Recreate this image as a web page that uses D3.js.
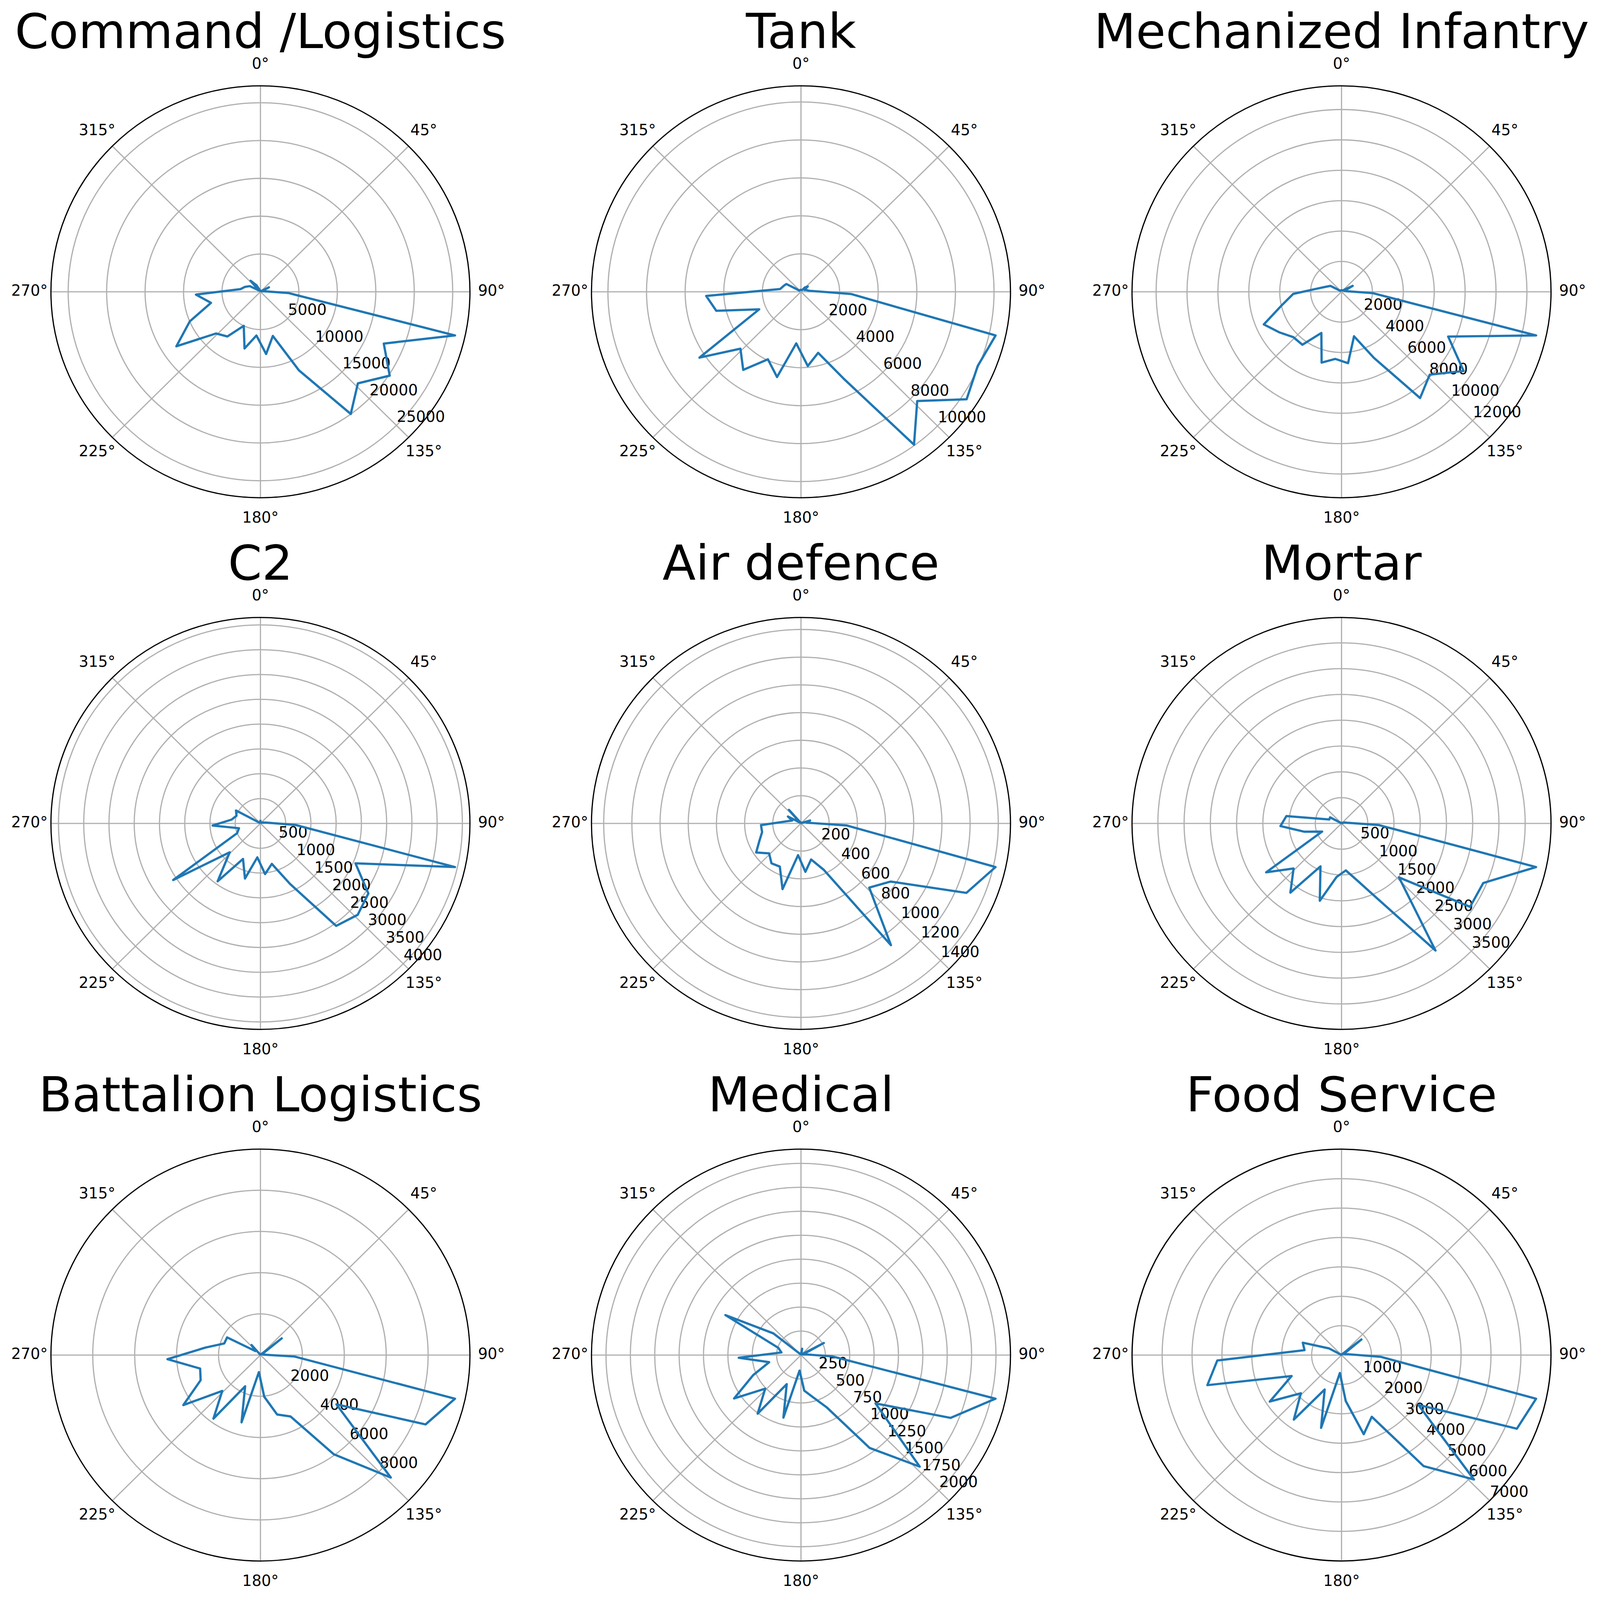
<!DOCTYPE html>
<html><head><meta charset="utf-8">
<script src="https://cdn.jsdelivr.net/npm/d3@7/dist/d3.min.js"></script>
<style>html,body{margin:0;padding:0;background:#fff;overflow:hidden}svg{display:block}</style>
</head><body>
<script>
// ---- data (values at 36 equally spaced angles, 0..360 deg) ----
const titles = ["Command /Logistics","Tank","Mechanized Infantry","C2","Air defence","Mortar","Battalion Logistics","Medical","Food Service"];
const angleTicks = [0,45,90,135,180,225,270,315];
const angleTickLabels = ["0°","45°","90°","135°","180°","225°","270°","315°"];

const commandLogistics = [100,100,100,100,100,200,1250,200,500,3620,25950,17440,20140,17530,19980,11530,6060,8270,5810,7780,5000,7310,7980,13100,10000,6600,8390,2610,2110,1570,300,1940,1000,200,100,100];
const tank = [100,100,100,100,300,450,200,300,410,2590,10340,9955,10280,8330,9960,5070,3340,3930,2730,4660,3950,5090,4340,6300,2355,4500,4915,1090,960,864,100,100,100,100,100,100];
const mechanizedInfantry = [100,100,100,100,100,200,820,200,300,2030,12920,7506,9470,7900,8650,4830,3040,4720,4440,4840,3010,4310,4320,4840,5470,3960,3130,1580,1065,816,100,100,100,100,100,100];
const c2 = [50,20,20,20,20,20,30,60,120,696,3953,2047,2562,2665,2553,1356,846,1025,687,1152,795,1442,842,2071,503,436,948,575,498,550,20,20,20,20,20,20];
const airDefence = [5,5,5,5,5,5,10,68,40,323,1416,1276,762,670,1086,371,270,351,230,492,346,356,313,381,321,283,284,108,66,105,10,130,10,5,5,5];
const mortar = [10,10,10,10,10,10,10,60,100,713,3803,2938,2936,1516,3047,1652,1155,915,1042,1556,924,1658,1264,1722,402,725,1165,1060,244,248,10,10,10,10,10,10];
const battalionLogistics = [50,50,50,50,50,1300,100,100,150,1629,9520,8566,4343,8603,5952,3307,2993,2034,831,3388,1683,3814,2519,4407,3102,2951,4440,2663,1816,1805,309,647,30,30,30,30];
const medical = [10,67,10,10,10,10,266,20,50,324,2047,1668,916,1685,1198,604,455,373,163,677,337,756,508,822,533,335,639,202,245,880,362,20,10,10,10,10];
const foodService = [20,20,20,20,50,852,100,100,215,1302,6675,6378,3079,6128,4671,2331,2794,1571,614,2570,1302,2715,1881,2876,1816,4603,4160,1249,1363,479,20,20,20,20,20,20];

const commandTicks = [5000,10000,15000,20000,25000];
const tankTicks = [2000,4000,6000,8000,10000];
const mechTicks = [2000,4000,6000,8000,10000,12000];
const c2Ticks = [500,1000,1500,2000,2500,3000,3500,4000];
const airTicks = [200,400,600,800,1000,1200,1400];
const mortarTicks = [500,1000,1500,2000,2500,3000,3500];
const battTicks = [2000,4000,6000,8000];
const medicalTicks = [250,500,750,1000,1250,1500,1750,2000];
const foodTicks = [1000,2000,3000,4000,5000,6000,7000];

const seriesList = [commandLogistics,tank,mechanizedInfantry,c2,airDefence,mortar,battalionLogistics,medical,foodService];
const tickList = [commandTicks,tankTicks,mechTicks,c2Ticks,airTicks,mortarTicks,battTicks,medicalTicks,foodTicks];

// ---- layout ----
const W = 4395, H = 4471;
const X0 = 715.4, Y0 = 815.3, DX = 1484.8, DY = 1485.6, R = 575.5;
const FS = 41.67, TFS = 133.33;
const FONT = "DejaVu Sans, sans-serif";

const svg = d3.select("body").append("svg")
  .attr("viewBox", `0 0 ${W} ${H}`)
  .attr("preserveAspectRatio", "none")
  .style("width", "100vw").style("height", "100vh");
svg.append("rect").attr("width", W).attr("height", H).attr("fill", "#fff");

const n = 36;
const angleScale = d3.scaleLinear().domain([0, n - 1]).range([0, 2 * Math.PI]);

seriesList.forEach((vals, idx) => {
  const row = Math.floor(idx / 3), col = idx % 3;
  const cx = X0 + col * DX, cy = Y0 + row * DY;
  const g = svg.append("g").attr("transform", `translate(${cx},${cy})`);
  const vmax = d3.max(vals), vmin = d3.min(vals);
  const rmax = vmax + 0.05 * (vmax - vmin);
  const rs = d3.scaleLinear().domain([0, rmax]).range([0, R]);
  const ticks = tickList[idx];

  // grid rings
  g.selectAll("circle.ring").data(ticks).enter().append("circle")
    .attr("r", d => rs(d)).attr("fill", "none")
    .attr("stroke", "#b0b0b0").attr("stroke-width", 3.3);
  // spokes
  g.selectAll("line.spoke").data(angleTicks).enter().append("line")
    .attr("x1", 0).attr("y1", 0)
    .attr("x2", d => R * Math.sin(d * Math.PI / 180))
    .attr("y2", d => -R * Math.cos(d * Math.PI / 180))
    .attr("stroke", "#b0b0b0").attr("stroke-width", 3.3);

  // radial tick labels along 135 deg
  const la = 135 * Math.PI / 180;
  g.selectAll("text.rt").data(ticks).enter().append("text")
    .attr("x", d => rs(d) * Math.sin(la) + 1)
    .attr("y", d => -rs(d) * Math.cos(la) - 9.8)
    .attr("font-family", FONT).attr("font-size", FS)
    .attr("text-anchor", "start").attr("fill", "#000")
    .text(d => String(d));

  // data line
  const line = d3.lineRadial()
    .angle((d, i) => angleScale(i))
    .radius(d => rs(d));
  g.append("path").attr("d", line(vals)).attr("fill", "none")
    .attr("stroke", "#1f77b4").attr("stroke-width", 6.25)
    .attr("stroke-linejoin", "round").attr("stroke-linecap", "square");

  // outer spine
  g.append("circle").attr("r", R).attr("fill", "none")
    .attr("stroke", "#000").attr("stroke-width", 3.3);

  // angle labels
  const LR = R + 59;
  g.selectAll("text.at").data(angleTicks).enter().append("text")
    .attr("x", d => LR * Math.sin(d * Math.PI / 180))
    .attr("y", d => -LR * Math.cos(d * Math.PI / 180) + 0.262 * FS)
    .attr("font-family", FONT).attr("font-size", FS)
    .attr("text-anchor", "middle").attr("fill", "#000")
    .text((d, i) => angleTickLabels[i]);

  // title
  g.append("text").attr("x", 0).attr("y", -681)
    .attr("font-family", FONT).attr("font-size", TFS)
    .attr("text-anchor", "middle").attr("fill", "#000")
    .text(titles[idx]);
});
</script>
</body></html>
